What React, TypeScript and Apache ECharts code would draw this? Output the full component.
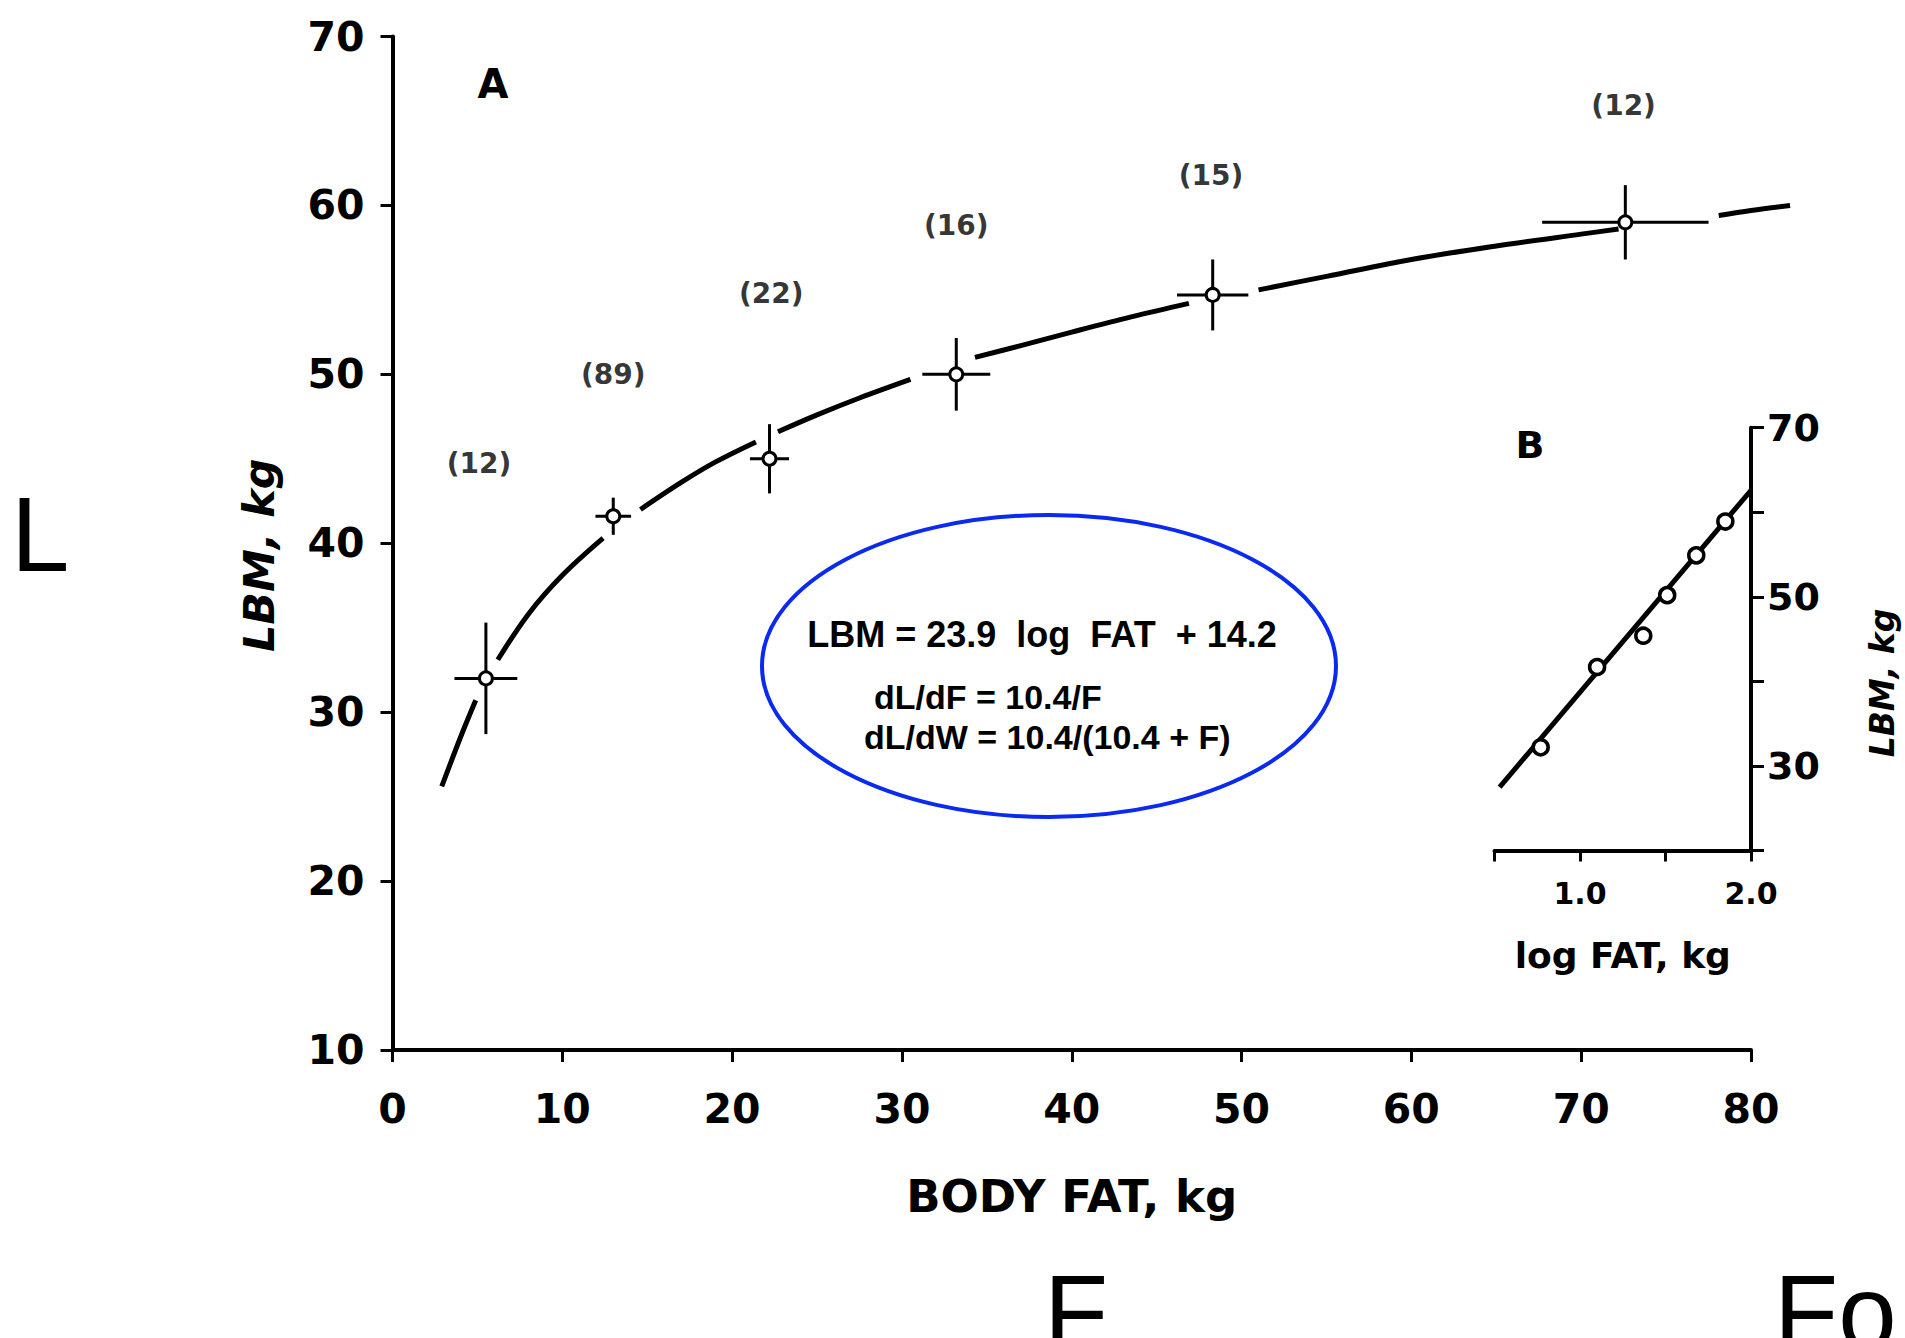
import React, { useEffect, useRef } from "react";
import * as echarts from "echarts";

// ---- Panel A data ----
const bodyFat = [5.5, 13.0, 22.2, 33.2, 48.3, 72.6];
const lbm = [32.0, 41.6, 45.0, 50.0, 54.7, 59.0];
const fatErr = [1.85, 1.05, 1.15, 2.0, 2.1, 4.9];
const lbmErr = [3.3, 1.1, 2.05, 2.15, 2.1, 2.2];
const counts = [12, 89, 22, 16, 15, 12];
const countLabelX = [5.1, 13.0, 22.3, 33.2, 48.2, 72.5];
const countLabelY = [44.7, 50.0, 54.8, 58.8, 61.8, 65.9];

// fitted curve, drawn in broken pieces as in the original
const curveSegments: number[][][] = [
  [[2.9, 25.6], [4.0, 28.5], [4.9, 30.7]],
  [[6.2, 33.1], [8.0, 35.8], [10.0, 38.1], [12.4, 40.3]],
  [[14.6, 42.0], [17.0, 43.6], [19.0, 44.8], [21.4, 46.0]],
  [[22.7, 46.6], [25.0, 47.6], [27.5, 48.6], [30.5, 49.7]],
  [[34.3, 51.0], [37.0, 51.7], [40.0, 52.5], [43.5, 53.4], [46.9, 54.2]],
  [[51.0, 55.0], [55.0, 55.8], [60.0, 56.8], [65.0, 57.6], [70.0, 58.3], [72.2, 58.6]],
  [[78.1, 59.4], [80.0, 59.7], [82.3, 60.0]],
];

// ---- Panel B data ----
const logFat = [0.77, 1.1, 1.37, 1.51, 1.68, 1.85];
const lbmInset = [32.2, 41.7, 45.4, 50.2, 54.9, 58.9];
const insetFit = [[0.53, 27.5], [2.0, 62.6]];

// tick labels
const insetXLabels = [1, 2];
const insetYLabels = [30, 50, 70];

const FONT = "DejaVu Sans";

export default function App() {
  const ref = useRef<HTMLDivElement>(null);
  useEffect(() => {
    if (!ref.current) return;
    const chart = echarts.init(ref.current, undefined, { renderer: "svg" });

    const axisCommon = {
      axisLine: { show: true, onZero: false, lineStyle: { color: "#000", width: 4 } },
      axisTick: { show: true, inside: false, lineStyle: { color: "#000", width: 3 } },
      splitLine: { show: false },
    };

    const option: any = {
      animation: false,
      backgroundColor: "#fff",
      grid: [
        { left: 392.5, top: 36.5, width: 1358.5, height: 1013.5 },
        { left: 1494.5, top: 427.7, width: 256.5, height: 422.8 },
      ],
      xAxis: [
        {
          ...axisCommon,
          gridIndex: 0,
          type: "value",
          min: 0,
          max: 80,
          interval: 10,
          axisTick: { ...axisCommon.axisTick, length: 12 },
          axisLabel: { color: "#000", fontFamily: FONT, fontWeight: "bold", fontSize: 41, margin: 38 },
          name: "BODY FAT, kg",
          nameLocation: "middle",
          nameGap: 124,
          nameTextStyle: { color: "#000", fontFamily: FONT, fontWeight: "bold", fontSize: 45 },
        },
        {
          ...axisCommon,
          gridIndex: 1,
          type: "value",
          min: 0.5,
          max: 2.0,
          interval: 0.5,
          axisTick: { ...axisCommon.axisTick, length: 11 },
          axisLabel: {
            color: "#000",
            fontFamily: FONT,
            fontWeight: "bold",
            fontSize: 30,
            margin: 28,
            showMinLabel: true,
            showMaxLabel: true,
            formatter: (v: number) => (insetXLabels.some((l) => Math.abs(l - v) < 1e-6) ? v.toFixed(1) : ""),
          },
          name: "log FAT, kg",
          nameLocation: "middle",
          nameGap: 87,
          nameTextStyle: { color: "#000", fontFamily: FONT, fontWeight: "bold", fontSize: 36 },
        },
      ],
      yAxis: [
        {
          ...axisCommon,
          gridIndex: 0,
          type: "value",
          min: 10,
          max: 70,
          interval: 10,
          axisTick: { ...axisCommon.axisTick, length: 12 },
          axisLabel: { color: "#000", fontFamily: FONT, fontWeight: "bold", fontSize: 41, margin: 28 },
          name: "LBM, kg",
          nameLocation: "middle",
          nameGap: 112,
          nameRotate: 90,
          nameTextStyle: {
            color: "#000",
            fontFamily: FONT,
            fontWeight: "bold",
            fontStyle: "italic",
            fontSize: 43,
            padding: [0, 24, 0, 0],
          },
        },
        {
          ...axisCommon,
          gridIndex: 1,
          type: "value",
          position: "right",
          min: 20,
          max: 70,
          interval: 10,
          axisTick: { ...axisCommon.axisTick, length: 13 },
          axisLabel: {
            color: "#000",
            fontFamily: FONT,
            fontWeight: "bold",
            fontSize: 38,
            margin: 16,
            formatter: (v: number) => (insetYLabels.includes(v) ? String(v) : ""),
          },
        },
      ],
      series: [
        {
          type: "custom",
          xAxisIndex: 0,
          yAxisIndex: 0,
          clip: false,
          z: 3,
          encode: { x: 0, y: 1 },
          data: curveSegments.map((seg) => seg[0]),
          renderItem: (params: any, api: any) => {
            const seg = curveSegments[params.dataIndex];
            const pts = seg.map((p) => api.coord(p));
            return {
              type: "polyline",
              shape: { points: pts, smooth: 0.35 },
              style: { stroke: "#000", lineWidth: 5, fill: null, lineCap: "butt" },
            };
          },
        },
        {
          type: "custom",
          xAxisIndex: 0,
          yAxisIndex: 0,
          clip: false,
          z: 4,
          encode: { x: 0, y: 1 },
          data: bodyFat.map((f, i) => [f, lbm[i], fatErr[i], lbmErr[i]]),
          renderItem: (params: any, api: any) => {
            const x = api.value(0);
            const y = api.value(1);
            const ex = api.value(2);
            const ey = api.value(3);
            const l = api.coord([x - ex, y]);
            const r = api.coord([x + ex, y]);
            const t = api.coord([x, y + ey]);
            const b = api.coord([x, y - ey]);
            const style = { stroke: "#000", lineWidth: 3 };
            return {
              type: "group",
              children: [
                { type: "line", shape: { x1: l[0], y1: l[1], x2: r[0], y2: r[1] }, style },
                { type: "line", shape: { x1: t[0], y1: t[1], x2: b[0], y2: b[1] }, style },
              ],
            };
          },
        },
        {
          type: "scatter",
          xAxisIndex: 0,
          yAxisIndex: 0,
          data: bodyFat.map((f, i) => [f, lbm[i]]),
          symbol: "circle",
          symbolSize: 13,
          itemStyle: { color: "#fff", borderColor: "#000", borderWidth: 3, opacity: 1 },
          z: 5,
        },
        {
          type: "scatter",
          xAxisIndex: 0,
          yAxisIndex: 0,
          data: countLabelX.map((x, i) => [x, countLabelY[i], counts[i]]),
          symbol: "circle",
          symbolSize: 1,
          itemStyle: { color: "rgba(0,0,0,0)" },
          label: {
            show: true,
            position: "inside",
            formatter: (p: any) => `(${p.value[2]})`,
            color: "#000",
            fontFamily: FONT,
            fontWeight: "bold",
            fontSize: 28,
          },
          z: 5,
        },
        {
          type: "line",
          xAxisIndex: 1,
          yAxisIndex: 1,
          data: insetFit,
          showSymbol: false,
          symbol: "none",
          clip: false,
          lineStyle: { color: "#000", width: 5 },
          z: 3,
        },
        {
          type: "scatter",
          xAxisIndex: 1,
          yAxisIndex: 1,
          data: logFat.map((x, i) => [x, lbmInset[i]]),
          symbol: "circle",
          symbolSize: 15,
          itemStyle: { color: "#fff", borderColor: "#000", borderWidth: 3.5, opacity: 1 },
          z: 5,
        },
      ],
      graphic: [
        {
          type: "text",
          x: 493,
          y: 84,
          style: { text: "A", fontFamily: FONT, fontWeight: "bold", fontSize: 40, fill: "#000", align: "center", verticalAlign: "middle", textAlign: "center", textVerticalAlign: "middle" },
        },
        {
          type: "text",
          x: 1530,
          y: 445,
          style: { text: "B", fontFamily: FONT, fontWeight: "bold", fontSize: 38, fill: "#000", align: "center", verticalAlign: "middle", textAlign: "center", textVerticalAlign: "middle" },
        },
        {
          type: "text",
          x: 1882,
          y: 683,
          rotation: Math.PI / 2,
          style: { text: "LBM, kg", fontFamily: FONT, fontWeight: "bold", fontStyle: "italic", fontSize: 33, fill: "#000", align: "center", verticalAlign: "middle", textAlign: "center", textVerticalAlign: "middle" },
        },
        {
          type: "ellipse",
          shape: { cx: 1049, cy: 666, rx: 287, ry: 151 },
          style: { fill: "none", stroke: "#0a2af0", lineWidth: 4 },
          z: 10,
        },
        {
          type: "text",
          x: 1042,
          y: 634,
          style: { text: "LBM = 23.9  log  FAT  + 14.2", fontFamily: "Liberation Sans", fontWeight: "bold", fontSize: 36, fill: "#000", align: "center", verticalAlign: "middle", textAlign: "center", textVerticalAlign: "middle" },
        },
        {
          type: "text",
          x: 874,
          y: 697,
          style: { text: "dL/dF = 10.4/F", fontFamily: "Liberation Sans", fontWeight: "bold", fontSize: 34, fill: "#000", align: "left", verticalAlign: "middle", textAlign: "left", textVerticalAlign: "middle" },
        },
        {
          type: "text",
          x: 864,
          y: 737,
          style: { text: "dL/dW = 10.4/(10.4 + F)", fontFamily: "Liberation Sans", fontWeight: "bold", fontSize: 34, fill: "#000", align: "left", verticalAlign: "middle", textAlign: "left", textVerticalAlign: "middle" },
        },
        {
          type: "text",
          x: 11,
          y: 534,
          style: { text: "L", fontFamily: "Liberation Sans", fontSize: 105, fill: "#000", align: "left", verticalAlign: "middle", textAlign: "left", textVerticalAlign: "middle" },
        },
        {
          type: "text",
          x: 1044,
          y: 1312,
          style: { text: "F", fontFamily: "Liberation Sans", fontSize: 105, fill: "#000", align: "left", verticalAlign: "middle", textAlign: "left", textVerticalAlign: "middle" },
        },
        {
          type: "text",
          x: 1774,
          y: 1312,
          style: { text: "Fo", fontFamily: "Liberation Sans", fontSize: 105, fill: "#000", align: "left", verticalAlign: "middle", textAlign: "left", textVerticalAlign: "middle" },
        },
      ],
    };

    chart.setOption(option);
    return () => chart.dispose();
  }, []);

  return (
    <div
      ref={ref}
      style={{ position: "fixed", left: 0, top: 0, width: 1905, height: 1338, background: "#fff" }}
    />
  );
}
